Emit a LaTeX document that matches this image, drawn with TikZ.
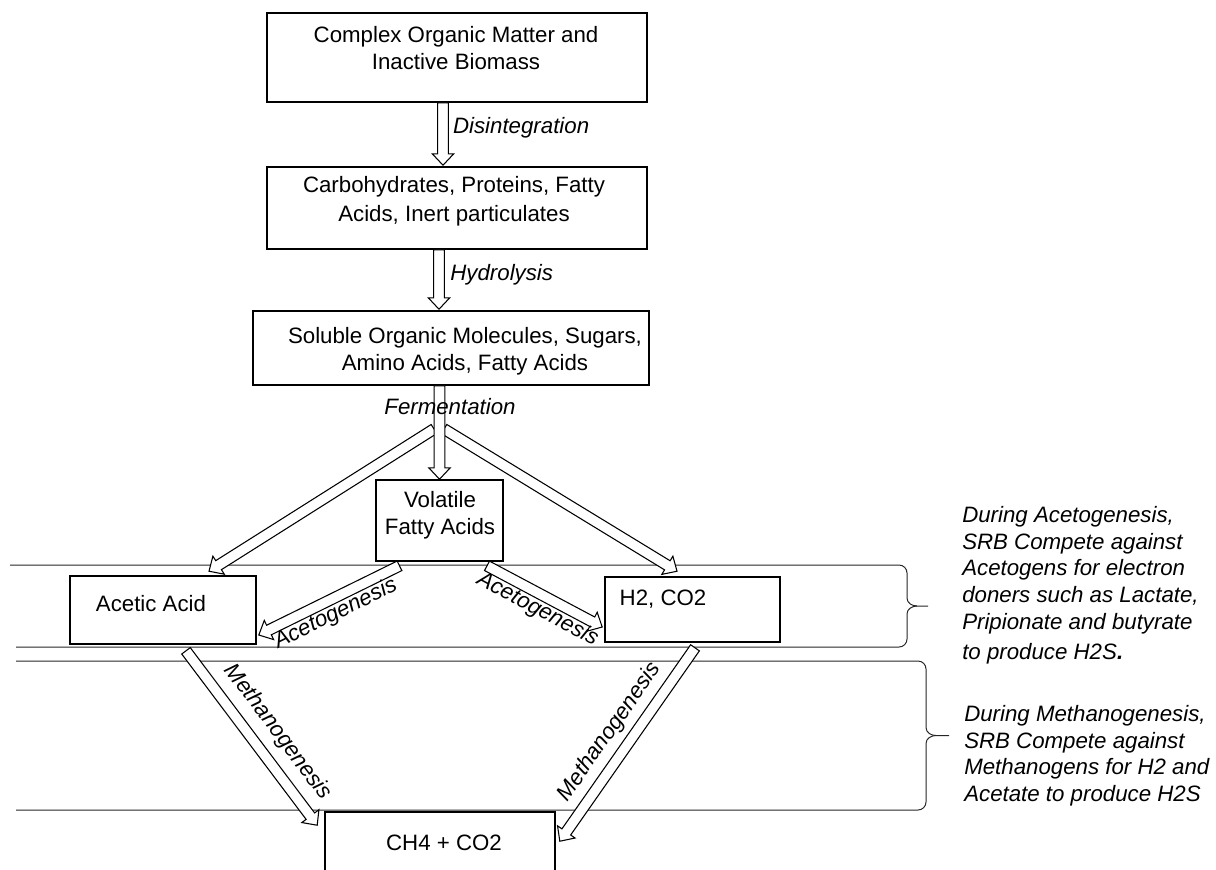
\documentclass[tikz,border=0pt]{standalone}
\usepackage{fontspec}
\setmainfont{Liberation Sans}
\usetikzlibrary{calc,fit}

\tikzset{
  box/.style={draw, line width=1.2pt, fill=white, inner sep=0pt},
  txt/.style={font=\fontsize{16.7}{20.3}\selectfont, align=center, inner sep=0pt},
  lab/.style={font=\fontsize{16.7}{20.3}\selectfont\itshape},
  side/.style={font=\fontsize{16.7}{20}\selectfont\itshape, align=left, inner sep=0pt, anchor=north west},
  blockline/.style={draw, line width=0.8pt, fill=white, line join=miter},
  bandline/.style={line width=0.75pt, black!85}
}

\newcommand{\hollowarrow}[2]{%
  \coordinate (tail) at #1;
  \coordinate (tip) at #2;
  \coordinate (neck) at ($(tip)!8.5pt!(tail)$);
  \path[blockline] ($(tail)!4pt!90:(tip)$) -- ($(neck)!4pt!90:(tip)$) -- ($(neck)!8pt!90:(tip)$) -- (tip)
    -- ($(neck)!8pt!-90:(tip)$) -- ($(neck)!4pt!-90:(tip)$) -- ($(tail)!4pt!-90:(tip)$) -- cycle;}

\newcommand{\bandbrace}[6]{%
  \draw[bandline] (#1,#3) -- ({#5-8},#3) to[out=0,in=90] (#5,{#3+8}) -- (#5,{(#3+#4)/2-8})
    to[out=-90,in=180] ({#5+10},{(#3+#4)/2}) -- (#6,{(#3+#4)/2});
  \draw[bandline] ({#5+10},{(#3+#4)/2}) to[out=180,in=90] (#5,{(#3+#4)/2+8}) -- (#5,{#4-8})
    to[out=-90,in=0] ({#5-8},#4) -- (#2,#4);}

\begin{document}
\begin{tikzpicture}[x=0.75pt, y=-0.75pt]
\useasboundingbox (0,0) rectangle (1216,869);

% the two stages with their braces
\bandbrace{10}{16}{565}{647}{907}{928}
\bandbrace{16}{16}{661}{810}{926}{949}

\node[box, fit={(267,13) (647,102)}] (cplx) {};
\node[box, fit={(267,167) (647,249)}] (carb) {};
\node[box, fit={(253,311) (649,385)}] (sol) {};
\node[box, fit={(376,480) (503,561)}] (vfa) {};
\node[box, fit={(70,576) (256,644)}] (acetic) {};
\node[box, fit={(605,577) (780,642)}] (htwo) {};
\node[box, fit={(325,812) (555,905)}] (ch4) {};

\node[txt] (cplxt) at (456,48) {Complex Organic Matter and\\Inactive Biomass};
\node[txt] (carbt) at (454,201) {Carbohydrates, Proteins, Fatty\\[1.5pt]Acids, Inert particulates};
\node[txt] (solt) at (465,351) {Soluble Organic Molecules, Sugars,\\Amino Acids, Fatty Acids};
\node[txt] (vfat) at (440,515) {Volatile\\Fatty Acids};
\node[txt] (artt) at (151,604) {Acetic Acid};
\node[txt] (htwot) at (663,599) {H2, CO2};
\node[txt] (ch4t) at (444,843) {CH4 + CO2};

\hollowarrow{($(cplx.south)+(-14,0)$)}{($(carb.north)+(-14,-1)$)}
\path (tail) -- (tip) node[lab, midway, right, xshift=4pt, yshift=4.5pt] (disint) {Disintegration};
\hollowarrow{($(carb.south)+(-18,0)$)}{($(sol.north)+(-12,-1)$)}
\path (tail) -- (tip) node[lab, midway, right, xshift=5pt, yshift=3.4pt] (hydro) {Hydrolysis};

\coordinate (fermL) at (434,429);
\coordinate (fermR) at (444,429);
\hollowarrow{(fermL)}{($(acetic.north)+(46,-4)$)}
\hollowarrow{(fermR)}{($(htwo.north)+(-15.5,-5)$)}
\hollowarrow{(sol.south -| vfa.north)}{(vfa.north)}
\node[lab, inner sep=0pt] (ferm) at (450,407) {Fermentation};

\hollowarrow{($(vfa.south)+(-40,4)$)}{($(acetic.east)+(2,25)$)}
\path (tail) -- (tip) node[lab, midway, sloped, below] (acetoL) {Acetogenesis};
\hollowarrow{($(vfa.south)+(47.5,4)$)}{($(htwo.west)+(-2,17.5)$)}
\path (tail) -- (tip) node[lab, midway, sloped, below] (acetoR) {Acetogenesis};

\hollowarrow{($(acetic.south)+(23,6)$)}{($(ch4.north west)+(-7,14)$)}
\path (tail) -- (tip) node[lab, pos=0.55, sloped, above=7pt] (methL) {Methanogenesis};
\hollowarrow{($(htwo.south)+(2.5,5)$)}{($(ch4.north east)+(4,30)$)}
\path (tail) -- (tip) node[lab, midway, sloped, above=5pt] (methR) {Methanogenesis};

\node[side] (acetonote) at (962,506) {During Acetogenesis,\\SRB Compete against\\Acetogens for electron\\doners such as Lactate,\\Pripionate and butyrate\\[3pt]to produce H2S\textbf{.}};
\node[side] (methnote) at (964,705) {During Methanogenesis,\\SRB Compete against\\Methanogens for H2 and\\Acetate to produce H2S};
\end{tikzpicture}
\end{document}
